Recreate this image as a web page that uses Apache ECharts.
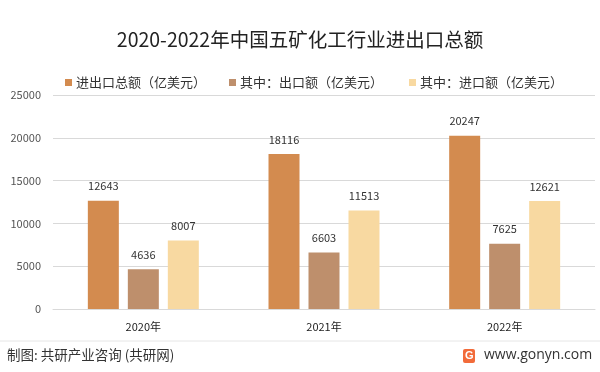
<!DOCTYPE html>
<html><head><meta charset="utf-8">
<script src="https://cdn.jsdelivr.net/npm/echarts@6/dist/echarts.min.js"></script>
<style>html,body{margin:0;padding:0;background:#fff}#c{width:600px;height:372px}</style>
</head><body><div id="c"></div>
<script>
const categories = ['2020年', '2021年', '2022年'];
const totalValues = [12643, 18116, 20247];
const exportValues = [4636, 6603, 7625];
const importValues = [8007, 11513, 12621];
const seriesNames = ['进出口总额（亿美元）', '其中：出口额（亿美元）', '其中：进口额（亿美元）'];
const colors = ['#D38B4F', '#BE8F6C', '#F8D9A1'];

const chart = echarts.init(document.getElementById('c'));
const font = '"Microsoft YaHei","Noto Sans CJK SC",sans-serif';
const mk = (name, data, color) => ({
  name, type: 'bar', data, barWidth: 31, barGap: '29%',
  itemStyle: { color },
  label: { show: true, position: 'top', distance: 9, color: '#333', fontSize: 11, fontFamily: font }
});
const legendLefts = [60, 224, 404];
chart.setOption({
  animation: false,
  title: { text: '2020-2022年中国五矿化工行业进出口总额', left: 'center', top: 25,
    textStyle: { fontSize: 19.5, fontWeight: 'normal', color: '#222', fontFamily: font } },
  legend: seriesNames.map((n, i) => ({
    data: [n], top: 71, left: legendLefts[i], itemWidth: 7, itemHeight: 7, icon: 'rect',
    textStyle: { fontSize: 13, color: '#333', fontFamily: font, padding: [0, 0, 0, -1] }
  })),
  grid: { left: 53, right: 5, top: 95, bottom: 63 },
  xAxis: { type: 'category', data: categories,
    axisLine: { lineStyle: { color: '#d9d9d9' } }, axisTick: { show: false },
    axisLabel: { color: '#222', fontSize: 11, margin: 12, fontFamily: font } },
  yAxis: { type: 'value', min: 0, max: 25000, interval: 5000,
    axisLine: { show: false }, axisTick: { show: false },
    splitLine: { lineStyle: { color: '#d9d9d9' } },
    axisLabel: { color: '#555', fontSize: 11, margin: 12, fontFamily: font, formatter: v => String(v) } },
  series: [
    mk(seriesNames[0], totalValues, colors[0]),
    mk(seriesNames[1], exportValues, colors[1]),
    mk(seriesNames[2], importValues, colors[2])
  ],
  graphic: [
    { type: 'line', shape: { x1: 0, y1: 341, x2: 600, y2: 341 }, style: { stroke: '#e6e6e6', lineWidth: 1 } },
    { type: 'text', left: 7, top: 348, style: { text: '制图: 共研产业咨询 (共研网)', fill: '#333', font: '13.5px ' + font } },
    { type: 'rect', shape: { x: 463, y: 349, width: 12, height: 14, r: 2 }, style: { fill: '#F26B3A' } },
    { type: 'text', x: 465, y: 350, style: { text: 'G', fill: '#fff', font: 'bold 11px sans-serif' } },
    { type: 'text', left: 484, top: 348, style: { text: 'www.gonyn.com', fill: '#333', font: '14px "Open Sans",sans-serif' } }
  ]
});
</script></body></html>
